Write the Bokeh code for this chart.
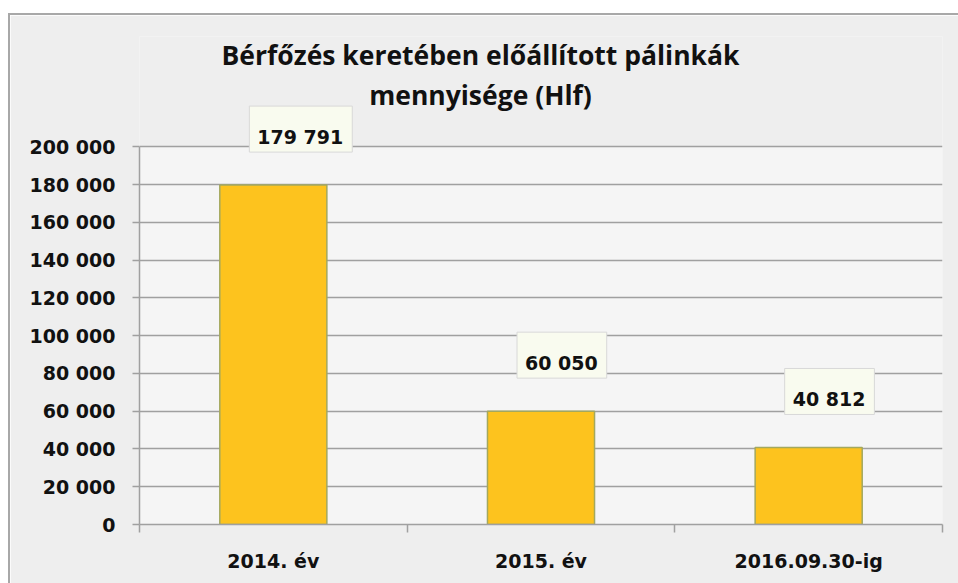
from bokeh.plotting import figure
from bokeh.models import Range1d, FixedTicker, Label, Spacer, BoxAnnotation
from bokeh.layouts import column, row
from bokeh.core.properties import value
from bokeh.embed import file_html
from bokeh.resources import INLINE

categories = ["2014. év", "2015. év", "2016.09.30-ig"]
values = [179791, 60050, 40812]
label_texts = ["179 791", "60 050", "40 812"]
y_ticks = [0, 20000, 40000, 60000, 80000, 100000, 120000, 140000, 160000, 180000, 200000]
title_lines = ["Bérfőzés keretében előállított pálinkák", "mennyisége (Hlf)"]

xpos = [i + 0.5 for i in range(len(categories))]
bounds = [float(i) for i in range(len(categories) + 1)]
y_top = y_ticks[-1]

FONT = "DejaVu Sans"

p = figure(
    frame_width=801, frame_height=486,
    x_range=Range1d(0, len(categories)), y_range=Range1d(0, 258500),
    output_backend="svg", toolbar_location=None,
    min_border_left=129, min_border_right=25, min_border_top=21, min_border_bottom=73,
    background_fill_color="#EEEEEE", border_fill_color="#EEEEEE",
    outline_line_color=None,
    styles={"border-top": "2px solid #A8A8A8", "border-left": "2px solid #A8A8A8"},
)

plot_area = BoxAnnotation(bottom=0, top=y_top, fill_color="#F5F5F5", fill_alpha=1.0,
                          line_color=None, level="underlay")
p.center = [plot_area] + list(p.center)

for line, ys in zip(title_lines, [470, 430]):
    p.add_layout(Label(x=341, y=ys, x_units="screen", y_units="screen", text=line,
                       text_align="center", text_baseline="alphabetic",
                       text_font="Open Sans", text_font_size="26.5px", text_font_style="bold",
                       text_color="#111111"))

p.vbar(x=xpos, top=values, width=0.4, fill_color="#FDC31E",
       line_color="#A3A85E", line_width=1.5)

p.text(x=xpos, y=values, text=label_texts, x_offset=-24, y_offset=-56,
       text_align="left", text_baseline="alphabetic",
       text_font=value(FONT), text_font_size=value("19px"), text_font_style="bold",
       text_color="#111111",
       background_fill_color="#F9FBEF", border_line_color="#D8D8D8",
       padding=dict(left=8, right=9, top=20, bottom=4))

yax = p.yaxis[0]
yax.ticker = FixedTicker(ticks=y_ticks, minor_ticks=[])
yax.bounds = (0, y_top)
yax.major_label_overrides = {t: f"{t:,}".replace(",", " ") for t in y_ticks}
yax.major_tick_out = 7
yax.major_tick_in = 0
yax.minor_tick_out = 0
yax.minor_tick_in = 0
yax.major_label_standoff = 17
yax.axis_line_color = "#A0A0A0"
yax.axis_line_width = 1.5
yax.major_tick_line_color = "#A0A0A0"
yax.major_tick_line_width = 1.5
yax.major_label_text_font = FONT
yax.major_label_text_font_style = "bold"
yax.major_label_text_font_size = "19px"
yax.major_label_text_color = "#111111"

xax = p.xaxis[0]
xax.ticker = FixedTicker(ticks=xpos, minor_ticks=bounds)
xax.major_label_overrides = {x: c for x, c in zip(xpos, categories)}
xax.major_tick_out = 0
xax.major_tick_in = 0
xax.minor_tick_out = 8
xax.minor_tick_in = 0
xax.minor_tick_line_color = "#A0A0A0"
xax.minor_tick_line_width = 1.5
xax.axis_line_color = "#A0A0A0"
xax.axis_line_width = 1.5
xax.major_label_standoff = 17
xax.major_label_text_font = FONT
xax.major_label_text_font_style = "bold"
xax.major_label_text_font_size = "19px"
xax.major_label_text_color = "#111111"

p.xgrid.visible = False
p.ygrid.ticker = FixedTicker(ticks=y_ticks)
p.ygrid.grid_line_color = "#A0A0A0"
p.ygrid.grid_line_width = 1.5

layout = column(Spacer(height=13), row(Spacer(width=8), p))

open("out.html", "w").write(file_html(layout, INLINE))
